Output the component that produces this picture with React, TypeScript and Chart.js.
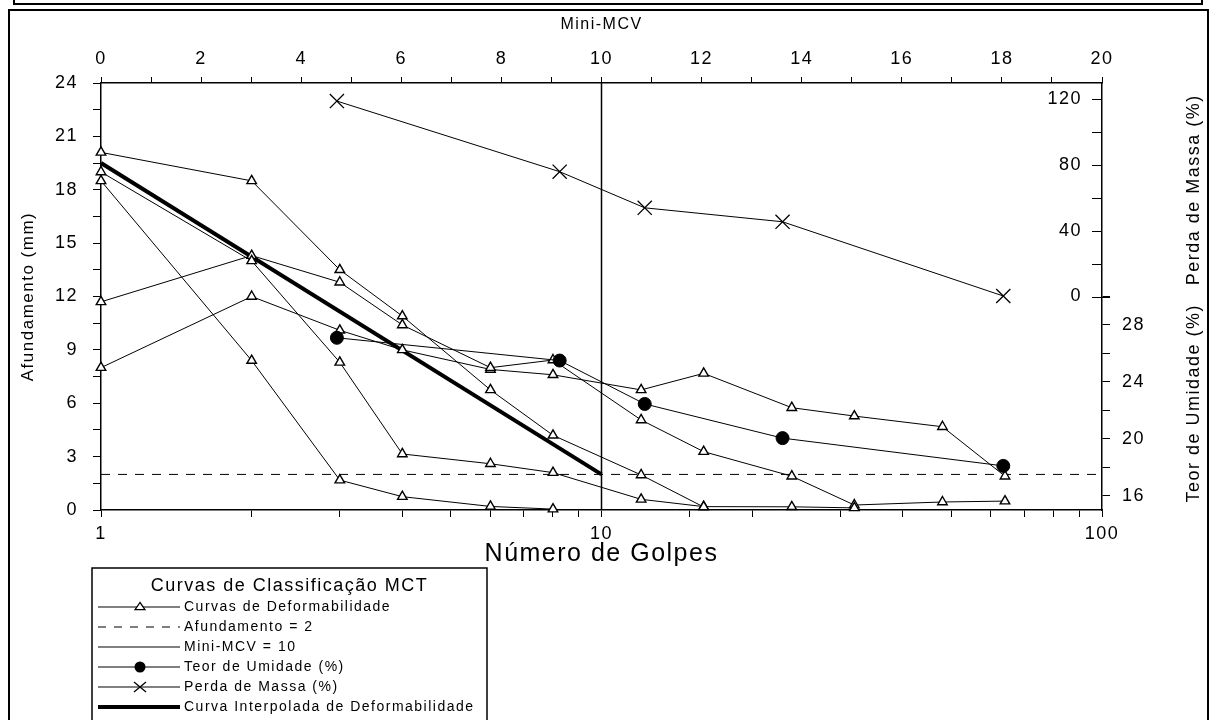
import React, { useEffect, useRef } from 'react';
import { Chart, registerables } from 'chart.js';

Chart.register(...registerables);

// ---------- DATA ----------
const golpes = [1, 2, 3, 4, 6, 8, 12, 16, 24, 32, 48, 64];
const curva1 = [20.1, 18.5, 13.5, 10.9, 6.75, 4.2, 1.97, 0.17, null, null, null, null];
const curva2 = [19.0, 14.0, 8.3, 3.15, 2.6, 2.1, 0.6, 0.19, 0.18, 0.12, null, null];
const curva3 = [18.5, 8.4, 1.68, 0.75, 0.2, 0.05, null, null, null, null, null, null];
const curva4 = [11.7, 14.3, 12.8, 10.4, 8.0, 8.43, 5.06, 3.28, 1.9, 0.28, 0.45, 0.5];
const curva5 = [8.0, 12.0, 10.1, 9.0, 7.9, 7.6, 6.75, 7.68, 5.75, 5.28, 4.68, 1.9];
const curvasDeformabilidade = [curva1, curva2, curva3, curva4, curva5];

const mcvGolpes = [2.96, 8.25, 12.2, 23, 63.5];
const teorUmidade = [27.1, 25.5, 22.45, 20.05, 18.1];
const perdaMassa = [119, 76, 54, 45.5, 0.3];

const interpGolpes = [1, 10];
const interpAfundamento = [19.5, 2];

const afundamentoRef = 2;
const miniMcvRef = 10;
const golpesRange = [1, 100];
const afundRange = [0, 24];

const golpesLabels = [1, 10, 100];
const afundLabels = [0, 3, 6, 9, 12, 15, 18, 21, 24];
const miniMcvLabels = [0, 2, 4, 6, 8, 10, 12, 14, 16, 18, 20];
const teorLabels = [16, 20, 24, 28];
const teorTickMarks = [16, 18, 20, 22, 24, 26, 28, 30];
const perdaLabels = [0, 40, 80, 120];
const perdaTickMarks = [0, 20, 40, 60, 80, 100, 120];

const legendTitle = 'Curvas de Classificação MCT';
const legendLabels = [
  'Curvas de Deformabilidade',
  'Afundamento = 2',
  'Mini-MCV = 10',
  'Teor de Umidade (%)',
  'Perda de Massa (%)',
  'Curva Interpolada de Deformabilidade',
];

// ---------- HELPERS ----------
const FONT = "'Liberation Sans', Arial, sans-serif";
const near = (arr: number[], v: number) => arr.some((a) => Math.abs(a - v) < 1e-6);
const pts = (xs: number[], ys: (number | null)[]) =>
  xs.map((x, i) => ({ x, y: ys[i] })).filter((p) => p.y !== null && p.y !== undefined);

const decorPlugin = {
  id: 'decor',
  beforeDraw(chart: any) {
    const ctx = chart.ctx;
    ctx.save();
    ctx.fillStyle = '#fff';
    ctx.fillRect(0, 0, chart.width, chart.height);
    ctx.strokeStyle = '#000';
    ctx.lineWidth = 2;
    ctx.strokeRect(14, -20, 1188, 24);
    ctx.strokeRect(9, 10, 1199, 740);
    ctx.restore();
    ctx.letterSpacing = '1.5px';
  },
  afterDraw(chart: any) {
    const { ctx, chartArea } = chart;
    const ps = chart.scales.yPerda;
    const ts = chart.scales.yTeor;
    ctx.save();
    ctx.letterSpacing = '1.5px';
    ctx.strokeStyle = '#000';
    ctx.fillStyle = '#000';
    ctx.lineWidth = 1;
    const ax = chartArea.right;
    perdaTickMarks.forEach((v) => {
      const y = Math.round(ps.getPixelForValue(v)) + 0.5;
      ctx.beginPath();
      ctx.moveTo(ax - 10, y);
      ctx.lineTo(v === 0 ? ax + 8 : ax, y);
      ctx.stroke();
    });
    ctx.font = `18px ${FONT}`;
    ctx.textAlign = 'right';
    ctx.textBaseline = 'middle';
    perdaLabels.forEach((v) => ctx.fillText(String(v), ax - 20, ps.getPixelForValue(v)));

    ctx.textAlign = 'center';
    const drawV = (text: string, x: number, y: number) => {
      ctx.save();
      ctx.translate(x, y);
      ctx.rotate(-Math.PI / 2);
      ctx.fillText(text, 0, 0);
      ctx.restore();
    };
    drawV('Perda de Massa (%)', 1194, (ps.getPixelForValue(0) + chartArea.top) / 2);
    drawV('Teor de Umidade (%)', 1194, (ts.getPixelForValue(30) + chartArea.bottom) / 2);

    // legend
    const lx = 92, ly = 568, lw = 395;
    ctx.lineWidth = 1.5;
    ctx.strokeRect(lx, ly, lw, 200);
    ctx.font = `18px ${FONT}`;
    ctx.textAlign = 'center';
    ctx.fillText(legendTitle, lx + lw / 2, 586);
    ctx.font = `14px ${FONT}`;
    ctx.textAlign = 'left';
    legendLabels.forEach((label, i) => {
      const y = 607 + i * 20;
      const x1 = 98, x2 = 180, mx = 140;
      ctx.save();
      ctx.strokeStyle = '#000';
      ctx.lineWidth = i === 5 ? 4 : 1;
      if (i === 1) ctx.setLineDash([8, 8]);
      ctx.beginPath();
      ctx.moveTo(x1, y);
      ctx.lineTo(x2, y);
      ctx.stroke();
      ctx.setLineDash([]);
      if (i === 0) {
        const r = 4.5;
        ctx.beginPath();
        ctx.moveTo(mx, y - r);
        ctx.lineTo(mx - r * 1.1, y + r * 0.6);
        ctx.lineTo(mx + r * 1.1, y + r * 0.6);
        ctx.closePath();
        ctx.fillStyle = '#fff';
        ctx.fill();
        ctx.lineWidth = 1.3;
        ctx.stroke();
      } else if (i === 3) {
        ctx.beginPath();
        ctx.arc(mx, y, 5.5, 0, Math.PI * 2);
        ctx.fillStyle = '#000';
        ctx.fill();
      } else if (i === 4) {
        ctx.lineWidth = 1.3;
        ctx.beginPath();
        ctx.moveTo(mx - 6, y - 5);
        ctx.lineTo(mx + 6, y + 5);
        ctx.moveTo(mx - 6, y + 5);
        ctx.lineTo(mx + 6, y - 5);
        ctx.stroke();
      }
      ctx.restore();
      ctx.fillStyle = '#000';
      ctx.fillText(label, 184, y);
    });
    ctx.restore();
  },
};

export default function App() {
  const ref = useRef<HTMLCanvasElement>(null);

  useEffect(() => {
    Chart.defaults.font.family = FONT;
    Chart.defaults.color = '#000';

    const curveDatasets = curvasDeformabilidade.map((c, i) => ({
      label: `Curva ${i + 1}`,
      data: pts(golpes, c),
      showLine: true,
      borderColor: '#000',
      borderWidth: 1,
      pointStyle: 'triangle',
      pointRadius: 5.5,
      pointBackgroundColor: '#fff',
      pointBorderColor: '#000',
      pointBorderWidth: 1.4,
      xAxisID: 'x',
      yAxisID: 'y',
      clip: false,
    }));

    const datasets: any[] = [
      {
        label: 'Teor de Umidade (%)',
        data: pts(mcvGolpes, teorUmidade),
        showLine: true,
        borderColor: '#000',
        borderWidth: 1,
        pointStyle: 'circle',
        pointRadius: 6.5,
        pointBackgroundColor: '#000',
        pointBorderColor: '#000',
        xAxisID: 'x',
        yAxisID: 'yTeor',
        clip: false,
      },
      {
        label: 'Perda de Massa (%)',
        data: pts(mcvGolpes, perdaMassa),
        showLine: true,
        borderColor: '#000',
        borderWidth: 1,
        pointStyle: 'crossRot',
        pointRadius: 10,
        pointBorderColor: '#000',
        pointBorderWidth: 1.3,
        xAxisID: 'x',
        yAxisID: 'yPerda',
        clip: false,
      },
      ...curveDatasets,
      {
        label: 'Curva Interpolada de Deformabilidade',
        data: pts(interpGolpes, interpAfundamento),
        showLine: true,
        borderColor: '#000',
        borderWidth: 4,
        pointRadius: 0,
        xAxisID: 'x',
        yAxisID: 'y',
        clip: false,
      },
      {
        label: 'Afundamento = 2',
        data: pts(golpesRange, [afundamentoRef, afundamentoRef]),
        showLine: true,
        borderColor: '#000',
        borderWidth: 1,
        borderDash: [9, 8],
        pointRadius: 0,
        xAxisID: 'x',
        yAxisID: 'y',
      },
      {
        label: 'Mini-MCV = 10',
        data: pts([Math.pow(10, miniMcvRef / 10), Math.pow(10, miniMcvRef / 10)], afundRange),
        showLine: true,
        borderColor: '#000',
        borderWidth: 1.5,
        pointRadius: 0,
        xAxisID: 'x',
        yAxisID: 'y',
      },
    ];

    const axisBorder = { display: true, color: '#000', width: 1.5 };

    const chart = new Chart(ref.current as HTMLCanvasElement, {
      type: 'scatter',
      data: { datasets },
      plugins: [decorPlugin],
      options: {
        responsive: false,
        animation: false,
        devicePixelRatio: 1,
        layout: { padding: { top: 0, left: 0, right: 0, bottom: 150 } },
        plugins: { legend: { display: false }, tooltip: { enabled: false } },
        scales: {
          x: {
            type: 'logarithmic',
            position: 'bottom',
            min: golpesRange[0],
            max: golpesRange[1],
            border: axisBorder,
            grid: { drawOnChartArea: false, tickLength: 7, tickColor: '#000', tickWidth: 1 },
            ticks: {
              autoSkip: false,
              maxRotation: 0,
              color: '#000',
              font: { size: 18 },
              padding: 6,
              callback: (v: any) => (near(golpesLabels, Number(v)) ? String(Number(v)) : ''),
            },
            title: { display: true, text: 'Número de Golpes', color: '#000', font: { size: 25 }, padding: { top: 0, bottom: 1 } },
            afterFit: (s: any) => { s.height = 60; },
          },
          x2: {
            type: 'linear',
            position: 'top',
            min: 0,
            max: 20,
            border: axisBorder,
            grid: { drawOnChartArea: false, tickLength: 6, tickColor: '#000', tickWidth: 1 },
            ticks: {
              stepSize: 1,
              autoSkip: false,
              maxRotation: 0,
              color: '#000',
              font: { size: 18 },
              padding: 7,
              callback: (v: any) => (near(miniMcvLabels, Number(v)) ? String(v) : ''),
            },
            title: { display: true, text: 'Mini-MCV', color: '#000', font: { size: 16 }, padding: { top: 15, bottom: 0 } },
            afterFit: (s: any) => { s.height = 83; },
          },
          y: {
            type: 'linear',
            position: 'left',
            min: afundRange[0],
            max: afundRange[1],
            border: axisBorder,
            grid: { drawOnChartArea: false, tickLength: 8, tickColor: '#000', tickWidth: 1 },
            ticks: {
              stepSize: 1.5,
              autoSkip: false,
              color: '#000',
              font: { size: 18 },
              padding: 15,
              callback: (v: any) => (near(afundLabels, Number(v)) ? String(v) : ''),
            },
            title: { display: true, text: 'Afundamento (mm)', color: '#000', font: { size: 17 }, padding: { top: 18, bottom: 0 } },
            afterFit: (s: any) => { s.width = 101; },
          },
          yTeor: {
            type: 'linear',
            position: 'right',
            min: 15,
            max: 45,
            border: axisBorder,
            grid: {
              drawOnChartArea: false,
              tickLength: 8,
              tickWidth: 1,
              tickColor: (c: any) => (c.tick && near(teorTickMarks, c.tick.value) ? '#000' : 'rgba(0,0,0,0)'),
            },
            ticks: {
              stepSize: 1,
              autoSkip: false,
              color: '#000',
              font: { size: 18 },
              padding: 12,
              callback: (v: any) => (near(teorLabels, Number(v)) ? String(v) : ''),
            },
            afterFit: (s: any) => { s.width = 116; },
          },
          yPerda: {
            type: 'linear',
            position: 'right',
            min: -130,
            max: 130,
            display: false,
          },
        },
      } as any,
    } as any);

    return () => chart.destroy();
  }, []);

  return (
    <div style={{ position: 'absolute', left: 0, top: 0, width: 1218, height: 720, background: '#fff' }}>
      <canvas ref={ref} width={1218} height={720} style={{ display: 'block', width: 1218, height: 720 }} />
    </div>
  );
}
